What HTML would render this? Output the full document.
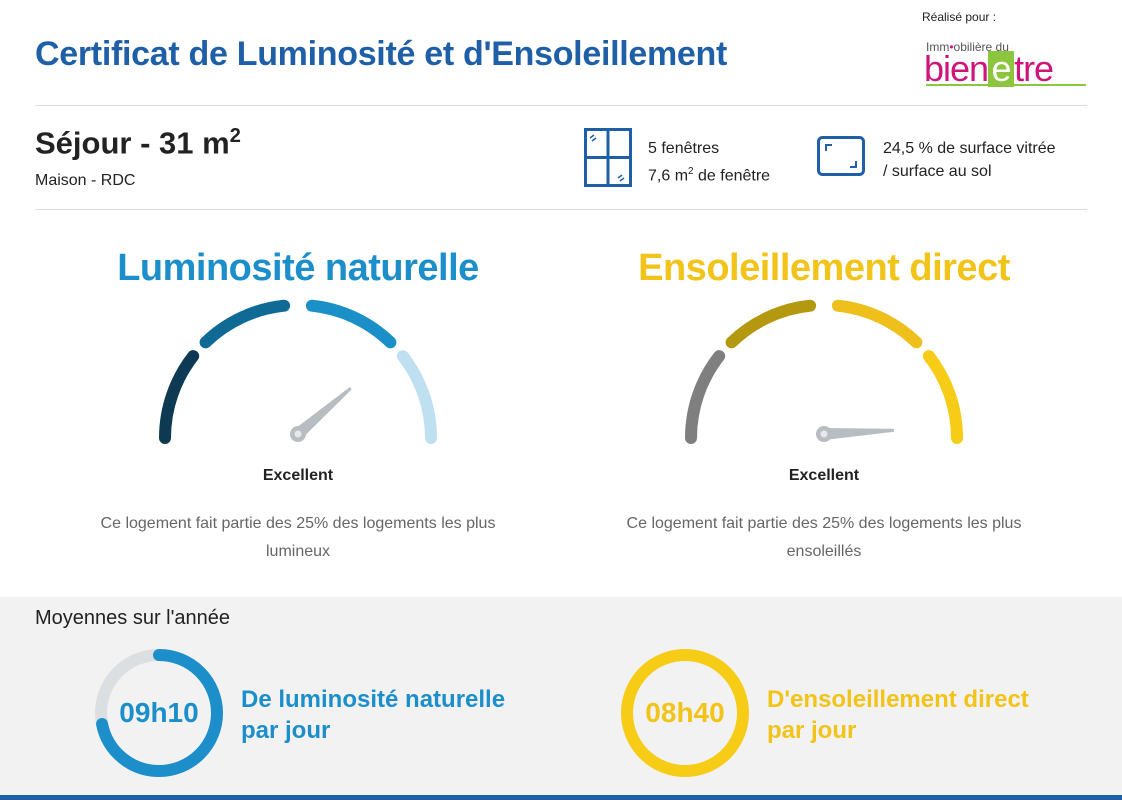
<!DOCTYPE html>
<html><head><meta charset="utf-8"><style>
body{margin:0;width:1122px;height:800px;position:relative;background:#fff;font-family:"Liberation Sans",sans-serif;overflow:hidden}
.a{position:absolute;white-space:nowrap}
</style></head><body>
<div class="a" style="left:35px;top:35px;font-size:34px;font-weight:bold;color:#1f5fa8;letter-spacing:-0.3px">Certificat de Luminosité et d'Ensoleillement</div>
<div class="a" style="left:922px;top:10px;font-size:12px;color:#222">Réalisé pour :</div>
<div class="a" style="left:926px;top:40px;font-size:12px;color:#555;z-index:2">Imm<span style="color:#d0157a">•</span>obilière du</div>
<div class="a" style="left:924px;top:51px;font-size:36px;line-height:36px;color:#d0157a;letter-spacing:-1px">bien<span style="display:inline-block;background:#8cc63f;color:#fff;width:26px;text-align:center">e</span>tre</div>
<div class="a" style="left:926px;top:84px;width:160px;height:2px;background:#8cc63f"></div>
<div class="a" style="left:35px;top:105px;width:1052px;height:1px;background:#ddd"></div>
<div class="a" style="left:35px;top:125px;font-size:31px;font-weight:bold;color:#222">Séjour - 31 m<sup style="font-size:20px">2</sup></div>
<div class="a" style="left:35px;top:172px;font-size:16px;color:#222">Maison - RDC</div>
<svg class="a" style="left:584px;top:128px" width="50" height="60"><rect x="1.5" y="1.5" width="45" height="56" fill="none" stroke="#1f5fa8" stroke-width="3"/><line x1="24" y1="1" x2="24" y2="58" stroke="#1f5fa8" stroke-width="3"/><line x1="1" y1="29.5" x2="47" y2="29.5" stroke="#1f5fa8" stroke-width="3"/><path d="M6 10l4-3M8 13l4-3M34 50l4-3M36 53l4-3" stroke="#1f5fa8" stroke-width="1.5"/></svg>
<div class="a" style="left:648px;top:137px;font-size:16px;color:#222;line-height:23px">5 fenêtres<br>7,6 m<sup style="font-size:10px">2</sup> de fenêtre</div>
<svg class="a" style="left:817px;top:136px" width="50" height="42"><rect x="1.5" y="1.5" width="45" height="37" rx="4" fill="none" stroke="#1f5fa8" stroke-width="3"/><path d="M9 15V9h6M39 25v6h-6" fill="none" stroke="#1f5fa8" stroke-width="2"/></svg>
<div class="a" style="left:883px;top:137px;font-size:16px;color:#222;line-height:23px">24,5 % de surface vitrée<br>/ surface au sol</div>
<div class="a" style="left:35px;top:209px;width:1052px;height:1px;background:#ddd"></div>
<div class="a" style="left:0;width:596px;text-align:center;top:247px;font-size:38px;font-weight:bold;color:#1c8fcb;letter-spacing:-0.5px">Luminosité naturelle</div>
<div class="a" style="left:526px;width:596px;text-align:center;top:247px;font-size:38px;font-weight:bold;color:#f2c318;letter-spacing:-0.5px">Ensoleillement direct</div>
<svg class="a" style="left:0;top:0" width="1122" height="800">
<g transform="translate(298,438)" fill="none" stroke-width="12" stroke-linecap="round">
<path d="M-133,0A133,133 0 0 1 -104.8,-81.9" stroke="#0d3a52"/>
<path d="M-92.4,-95.7A133,133 0 0 1 -13.9,-132.3" stroke="#0f6a96"/>
<path d="M13.9,-132.3A133,133 0 0 1 92.4,-95.7" stroke="#1b8fc8"/>
<path d="M104.8,-81.9A133,133 0 0 1 133,0" stroke="#bfe0f0"/>
<g transform="translate(0,-4) rotate(-41)" stroke="none"><polygon points="0,-6 70,-1.5 70,1.5 0,6" fill="#b8bdc2"/><circle r="8" fill="#b8bdc2"/><circle r="3.5" fill="#e6e8ea"/></g>
</g>
<g transform="translate(824,438)" fill="none" stroke-width="12" stroke-linecap="round">
<path d="M-133,0A133,133 0 0 1 -104.8,-81.9" stroke="#7f7f7f"/>
<path d="M-92.4,-95.7A133,133 0 0 1 -13.9,-132.3" stroke="#b4980f"/>
<path d="M13.9,-132.3A133,133 0 0 1 92.4,-95.7" stroke="#efbf1c"/>
<path d="M104.8,-81.9A133,133 0 0 1 133,0" stroke="#f6cc17"/>
<g transform="translate(0,-4) rotate(-3)" stroke="none"><polygon points="0,-6 70,-1.5 70,1.5 0,6" fill="#b8bdc2"/><circle r="8" fill="#b8bdc2"/><circle r="3.5" fill="#e6e8ea"/></g>
</g>
</svg>
<div class="a" style="left:0;width:596px;text-align:center;top:467px;font-size:16px;font-weight:bold;color:#222">Excellent</div>
<div class="a" style="left:526px;width:596px;text-align:center;top:467px;font-size:16px;font-weight:bold;color:#222">Excellent</div>
<div class="a" style="left:0;width:596px;text-align:center;top:510px;font-size:16px;color:#666;line-height:28px">Ce logement fait partie des 25% des logements les plus<br>lumineux</div>
<div class="a" style="left:526px;width:596px;text-align:center;top:510px;font-size:16px;color:#666;line-height:28px">Ce logement fait partie des 25% des logements les plus<br>ensoleillés</div>
<div class="a" style="left:0;top:597px;width:1122px;height:198px;background:#f2f2f2"></div>
<div class="a" style="left:0;top:795px;width:1122px;height:5px;background:#1f5fa8"></div>
<div class="a" style="left:35px;top:607px;font-size:20px;color:#222">Moyennes sur l'année</div>
<svg class="a" style="left:0;top:600px" width="1122" height="195">
<circle cx="159" cy="113" r="58" fill="none" stroke="#dcdfe2" stroke-width="12"/>
<circle cx="159" cy="113" r="58" fill="none" stroke="#1c8fcb" stroke-width="12" stroke-linecap="round" stroke-dasharray="262 1000" transform="rotate(-90 159 113)"/>
<circle cx="685" cy="113" r="58" fill="none" stroke="#f6cc17" stroke-width="12"/>
</svg>
<div class="a" style="left:101px;width:116px;text-align:center;top:697px;font-size:28px;font-weight:bold;color:#1c8fcb">09h10</div>
<div class="a" style="left:627px;width:116px;text-align:center;top:697px;font-size:28px;font-weight:bold;color:#f2c318">08h40</div>
<div class="a" style="left:241px;top:684px;font-size:24px;font-weight:bold;color:#1c8fcb;line-height:31px">De luminosité naturelle<br>par jour</div>
<div class="a" style="left:767px;top:684px;font-size:24px;font-weight:bold;color:#f2c318;line-height:31px">D'ensoleillement direct<br>par jour</div>
</body></html>
